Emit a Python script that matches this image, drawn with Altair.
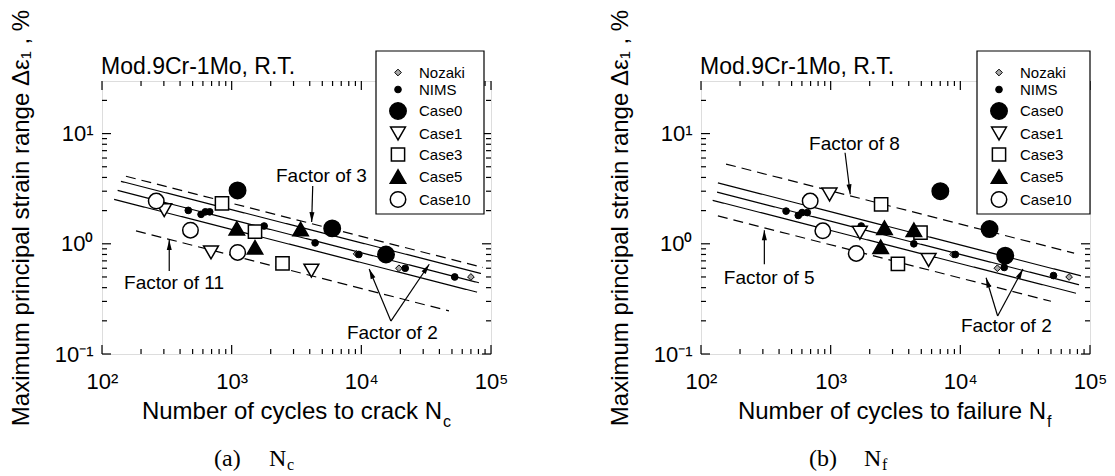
import math
import altair as alt
import pandas as pd

W, H = 389, 273
X_DOMAIN = [100, 100000]
Y_DOMAIN = [0.1, 30]
FONT = "Liberation Sans"
SERIF = "Liberation Serif"

# ---- series styling / legend order ----
series_names = ["Nozaki", "NIMS", "Case0", "Case1", "Case3", "Case5", "Case10"]
series_shapes = ["diamond", "circle", "circle", "triangle-down", "square", "triangle-up", "circle"]
series_fills = ["#a8a8a8", "black", "black", "white", "white", "black", "white"]
series_sizes = [45, 45, 270, 220, 175, 240, 240]
series_strokew = [1.0, 1.0, 1.5, 1.5, 1.5, 1.5, 1.5]

# ---- axis ticks ----
x_tick_values = [100, 1000, 10000, 100000]
x_tick_labels = ["10\u00b2", "10\u00b3", "10\u2074", "10\u2075"]
y_tick_values = [0.1, 1, 10]
y_tick_labels = ["10\u207b\u00b9", "10\u2070", "10\u00b9"]
x_minor = [k * 10 ** e for e in (2, 3, 4) for k in range(2, 10)]
y_minor = [k * 10 ** e for e in (-1, 0) for k in range(2, 10)] + [20]

# ---- (a) Nc panel data ----
nc_nozaki_N = [9200, 19500, 70000]
nc_nozaki_eps = [0.81, 0.60, 0.50]
nc_nims_N = [463, 581, 627, 677, 1780, 4400, 9570, 21800, 52500]
nc_nims_eps = [2.01, 1.85, 1.95, 1.95, 1.45, 1.02, 0.80, 0.60, 0.50]
nc_case0_N = [1110, 5960, 15500]
nc_case0_eps = [3.05, 1.38, 0.80]
nc_case1_N = [302, 693, 4120]
nc_case1_eps = [2.02, 0.835, 0.571]
nc_case3_N = [842, 1513, 2466]
nc_case3_eps = [2.33, 1.29, 0.665]
nc_case5_N = [1096, 1513, 3400]
nc_case5_eps = [1.38, 0.93, 1.36]
nc_case10_N = [262, 481, 1112]
nc_case10_eps = [2.44, 1.33, 0.835]

nc_line_N0 = [153, 140, 132, 124, 183]
nc_line_e0 = [4.10, 3.69, 3.05, 2.53, 1.31]
nc_line_N1 = [86700, 83700, 80700, 78000, 47400]
nc_line_e1 = [0.610, 0.538, 0.443, 0.364, 0.246]
nc_line_style = ["dashed", "solid", "solid", "solid", "dashed"]

nc_text = ["Factor of 3", "Factor of 11", "Factor of 2"]
nc_text_N = [2198, 148, 7740]
nc_text_eps = [4.12, 0.443, 0.156]
nc_arrow_N0 = [4218, 330, 16900, 16900]
nc_arrow_e0 = [3.34, 0.566, 0.199, 0.199]
nc_arrow_N1 = [4140, 330, 11500, 33400]
nc_arrow_e1 = [1.574, 1.08, 0.590, 0.652]

# ---- (b) Nf panel data ----
nf_nozaki_N = [8800, 19300, 69000]
nf_nozaki_eps = [0.80, 0.60, 0.50]
nf_nims_N = [453, 563, 602, 660, 1720, 4380, 9150, 21800, 52300]
nf_nims_eps = [1.98, 1.81, 1.92, 1.92, 1.45, 1.00, 0.80, 0.61, 0.515]
nf_case0_N = [7010, 16800, 22200]
nf_case0_eps = [3.0, 1.36, 0.78]
nf_case1_N = [980, 1680, 5690]
nf_case1_eps = [2.8, 1.26, 0.713]
nf_case3_N = [2450, 4930, 3300]
nf_case3_eps = [2.28, 1.26, 0.656]
nf_case5_N = [2600, 4380, 2430]
nf_case5_eps = [1.40, 1.34, 0.94]
nf_case10_N = [695, 870, 1575]
nf_case10_eps = [2.44, 1.31, 0.818]

nf_line_N0 = [156, 135, 133, 123, 135]
nf_line_e0 = [5.29, 3.57, 2.94, 2.48, 1.79]
nf_line_N1 = [75400, 85100, 82300, 78000, 50000]
nf_line_e1 = [0.822, 0.512, 0.425, 0.356, 0.301]
nf_line_style = ["dashed", "solid", "solid", "solid", "dashed"]

nf_text = ["Factor of 8", "Factor of 5", "Factor of 2"]
nf_text_N = [681, 150, 10100]
nf_text_eps = [8.09, 0.492, 0.180]
nf_arrow_N0 = [1291, 308, 19400, 19400]
nf_arrow_e0 = [6.70, 0.652, 0.221, 0.221]
nf_arrow_N1 = [1416, 308, 15800, 30400]
nf_arrow_e1 = [2.81, 1.33, 0.492, 0.590]


def label_expr(values, labels):
    expr = "''"
    for v, l in zip(values, labels):
        expr = f"(abs(log(datum.value)/LN10 - ({math.log10(v)})) < 0.01) ? '{l}' : " + expr
    return expr


x_axis = alt.Axis(values=x_tick_values, labelExpr=label_expr(x_tick_values, x_tick_labels),
                  title=None, ticks=False, tickSize=0, domain=False, grid=False,
                  labelFont=FONT, labelFontSize=22, labelColor="black",
                  labelPadding=17, labelFlush=False, labelOverlap=False, labelBound=False)
y_axis = alt.Axis(values=y_tick_values, labelExpr=label_expr(y_tick_values, y_tick_labels),
                  title="Maximum principal strain range \u0394\u03b5\u2081 , %",
                  titleFontSize=24, titleFont=FONT, titleFontWeight="normal", titleColor="black",
                  titleX=-81, titleY=H / 2, titleAngle=270, titleAlign="center", titleBaseline="middle",
                  labelFont=FONT, labelFontSize=22, labelColor="black",
                  ticks=False, tickSize=0, domain=False, grid=False, labelPadding=9,
                  labelOverlap=False, labelFlush=False)


def xenc(field="N"):
    return alt.X(f"{field}:Q", scale=alt.Scale(type="log", domain=X_DOMAIN, nice=False), axis=x_axis)


def yenc(field="eps"):
    return alt.Y(f"{field}:Q", scale=alt.Scale(type="log", domain=Y_DOMAIN, nice=False), axis=y_axis)


def px_x(n):
    return W * (math.log10(n) - 2) / 3


def px_y(e):
    return H * (math.log10(30) - math.log10(e)) / (math.log10(30) - math.log10(0.1))


def text_at(text, x, y, size, font=FONT, align="left", baseline="alphabetic"):
    return alt.Chart(pd.DataFrame({"t": [text]})).mark_text(
        align=align, baseline=baseline, font=font, fontSize=size, color="black"
    ).encode(x=alt.value(x), y=alt.value(y), text="t:N")


def tick_layers(xvals, yvals, length):
    dfx = pd.DataFrame({"N": xvals})
    dfy = pd.DataFrame({"eps": yvals})
    m = dict(color="black", strokeWidth=1.2)
    return [
        alt.Chart(dfx).mark_rule(**m).encode(x=xenc(), y=alt.value(H), y2=alt.value(H - length)),
        alt.Chart(dfx).mark_rule(**m).encode(x=xenc(), y=alt.value(0), y2=alt.value(length)),
        alt.Chart(dfy).mark_rule(**m).encode(y=yenc(), x=alt.value(0), x2=alt.value(length)),
        alt.Chart(dfy).mark_rule(**m).encode(y=yenc(), x=alt.value(W), x2=alt.value(W - length)),
    ]


def panel(series_data, lines, texts, arrows, xtitle, sub, sub_x, cap_letter, cap_sub, cap_x, box_x0, box_x1):
    rows = []
    for name, (ns, es) in zip(series_names, series_data):
        for n, e in zip(ns, es):
            rows.append({"series": name, "N": n, "eps": e})
    df = pd.DataFrame(rows)

    N0, e0, N1, e1, style = lines
    dfl = pd.DataFrame({"N0": N0, "e0": e0, "N1": N1, "e1": e1, "style": style})

    tl, tN, te = texts
    dft = pd.DataFrame({"t": tl, "N": tN, "eps": te})

    aN0, ae0, aN1, ae1 = arrows
    angles = []
    for a, b, c, d in zip(aN0, ae0, aN1, ae1):
        dx = px_x(c) - px_x(a)
        dy = px_y(d) - px_y(b)
        angles.append(math.degrees(math.atan2(dx, -dy)) % 360)
    dfa = pd.DataFrame({"N0": aN0, "e0": ae0, "N": aN1, "eps": ae1, "ang": angles})

    leg = alt.Legend(title=None, orient="none", legendX=box_x0 + 13, legendY=-16, padding=0,
                     labelFont=FONT, labelFontSize=15,
                     labelColor="black", labelOffset=12, rowPadding=1,
                     symbolOpacity=1)

    line_layer = alt.Chart(dfl).mark_rule(color="black", strokeWidth=1.2).encode(
        x=xenc("N0"), x2="N1:Q", y=yenc("e0"), y2="e1:Q",
        strokeDash=alt.StrokeDash("style:N", scale=alt.Scale(domain=["solid", "dashed"], range=[[1, 0], [10, 6]]),
                                  legend=None),
    )
    pts = alt.Chart(df).mark_point(filled=False, opacity=1, strokeOpacity=1, fillOpacity=1).encode(
        x=xenc(), y=yenc(),
        shape=alt.Shape("series:N", scale=alt.Scale(domain=series_names, range=series_shapes), legend=leg),
        fill=alt.Fill("series:N", scale=alt.Scale(domain=series_names, range=series_fills), legend=leg),
        stroke=alt.Stroke("series:N", scale=alt.Scale(domain=series_names, range=["black"] * len(series_names)),
                          legend=leg),
        size=alt.Size("series:N", scale=alt.Scale(type="ordinal", domain=series_names, range=series_sizes),
                      legend=leg),
        strokeWidth=alt.StrokeWidth("series:N", scale=alt.Scale(type="ordinal", domain=series_names,
                                                                range=series_strokew), legend=leg),
    )
    arrow_lines = alt.Chart(dfa).mark_rule(color="black", strokeWidth=1.2).encode(
        x=xenc("N0"), x2="N:Q", y=yenc("e0"), y2="eps:Q")
    heads = alt.Chart(dfa).mark_point(shape="M0,0L-0.5,2L0.5,2Z", filled=True, color="black",
                                      opacity=1, size=100).encode(
        x=xenc(), y=yenc(), angle=alt.Angle("ang:Q", scale=None))
    labels = alt.Chart(dft).mark_text(align="left", baseline="middle", font=FONT, fontSize=19,
                                      color="black").encode(x=xenc(), y=yenc(), text="t:N")

    legend_box = alt.Chart(pd.DataFrame({"a": [0]})).mark_rect(fill="white", stroke="black",
                                                               strokeWidth=1.2).encode(
        x=alt.value(box_x0), x2=alt.value(box_x1), y=alt.value(-30), y2=alt.value(133))

    bounds_pt = alt.Chart(pd.DataFrame({"a": [0]})).mark_point(size=1, opacity=0, filled=True).encode(
        x=alt.value(-100.5), y=alt.value(-79.5))

    layers = [bounds_pt, line_layer]
    layers += tick_layers(x_tick_values, y_tick_values, 9)
    layers += tick_layers(x_minor, y_minor, 5)
    layers += [arrow_lines, heads, pts, labels, legend_box,
               text_at("Mod.9Cr-1Mo, R.T.", -1, -7, 23),
               text_at(xtitle, sub_x, 338, 24, align="right"),
               text_at(sub, sub_x + 1, 346, 16),
               text_at(cap_letter, cap_x, 385, 24, font=SERIF),
               text_at("N", cap_x + 55, 385, 24, font=SERIF),
               text_at(cap_sub, cap_x + 73, 389, 16, font=SERIF)]
    return alt.layer(*layers).properties(width=W, height=H)


left = panel(
    [(nc_nozaki_N, nc_nozaki_eps), (nc_nims_N, nc_nims_eps), (nc_case0_N, nc_case0_eps),
     (nc_case1_N, nc_case1_eps), (nc_case3_N, nc_case3_eps), (nc_case5_N, nc_case5_eps),
     (nc_case10_N, nc_case10_eps)],
    (nc_line_N0, nc_line_e0, nc_line_N1, nc_line_e1, nc_line_style),
    (nc_text, nc_text_N, nc_text_eps),
    (nc_arrow_N0, nc_arrow_e0, nc_arrow_N1, nc_arrow_e1),
    "Number of cycles to crack N", "c", 340, "(a)", "c", 112, 274, 382)

right = panel(
    [(nf_nozaki_N, nf_nozaki_eps), (nf_nims_N, nf_nims_eps), (nf_case0_N, nf_case0_eps),
     (nf_case1_N, nf_case1_eps), (nf_case3_N, nf_case3_eps), (nf_case5_N, nf_case5_eps),
     (nf_case10_N, nf_case10_eps)],
    (nf_line_N0, nf_line_e0, nf_line_N1, nf_line_e1, nf_line_style),
    (nf_text, nf_text_N, nf_text_eps),
    (nf_arrow_N0, nf_arrow_e0, nf_arrow_N1, nf_arrow_e1),
    "Number of cycles to failure N", "f", 345, "(b)", "f", 108, 276, 389)

chart = alt.hconcat(left, right, spacing=210, bounds="flush").resolve_scale(
    shape="independent", fill="independent", stroke="independent", size="independent",
    strokeWidth="independent"
).resolve_legend(
    shape="independent", fill="independent", stroke="independent", size="independent",
    strokeWidth="independent"
).properties(
    padding={"left": 0, "top": 0, "right": 0, "bottom": 0}
).configure_view(
    stroke="black", strokeWidth=1.8
).configure_axis(
    labelFont=FONT, labelFontSize=22, labelColor="black", grid=False
).configure(background="white")

chart.save("out.html", embed_options={"renderer": "svg", "actions": False})
